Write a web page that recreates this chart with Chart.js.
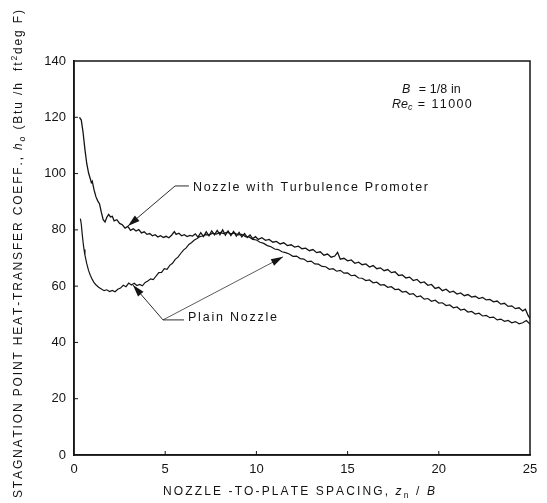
<!DOCTYPE html>
<html><head><meta charset="utf-8">
<script src="https://cdn.jsdelivr.net/npm/chart.js@4"></script>
<style>html,body{margin:0;padding:0;background:#fff}#wrap{width:547px;height:503px}</style>
</head><body><div id="wrap"><canvas id="c" width="547" height="503"></canvas></div>
<script>
// ---- data ----
const seriesNames = ["Nozzle with Turbulence Promoter", "Plain Nozzle"];
const turbX = [0.30,0.40,0.50,0.60,0.70,0.80,0.90,0.95,1.00,1.10,1.20,1.30,1.40,1.50,1.60,1.70,1.80,1.90,2.00,2.10,2.20,2.35,2.50,2.65,2.80,2.95,3.10,3.25,3.40,3.55,3.70,3.85,4.00,4.15,4.30,4.45,4.60,4.75,4.90,5.05,5.20,5.35,5.50,5.60,5.75,5.90,6.05,6.20,6.35,6.50,6.65,6.80,6.95,7.10,7.25,7.40,7.55,7.70,7.85,8.00,8.15,8.30,8.45,8.60,8.75,8.90,9.05,9.20,9.35,9.50,9.65,9.80,9.95,10.10,10.30,10.50,10.70,10.90,11.10,11.30,11.50,11.70,11.90,12.10,12.30,12.50,12.70,12.90,13.10,13.30,13.50,13.70,13.90,14.10,14.30,14.45,14.60,14.80,15.00,15.20,15.40,15.60,15.80,16.00,16.20,16.40,16.60,16.80,17.00,17.20,17.40,17.60,17.80,18.00,18.20,18.40,18.60,18.80,19.00,19.20,19.40,19.60,19.80,20.00,20.20,20.40,20.60,20.80,21.00,21.20,21.40,21.60,21.80,22.00,22.20,22.40,22.60,22.80,23.00,23.20,23.40,23.60,23.80,24.00,24.20,24.40,24.60,24.75,24.90,25.00];
const turbY = [120.0,119.0,114.5,108.5,103.5,100.2,98.0,96.8,97.3,94.2,91.8,90.3,89.2,86.2,83.6,82.8,84.5,85.5,84.6,84.8,83.2,83.6,82.3,81.8,80.6,81.2,79.8,80.4,79.6,80.1,78.9,79.3,78.4,78.7,77.9,78.3,77.5,77.9,77.3,77.7,77.2,78.1,79.4,78.4,78.8,77.9,78.3,77.6,78.0,77.8,78.6,77.4,79.0,77.6,79.3,77.9,79.6,78.2,79.8,78.3,80.0,78.1,79.6,78.0,79.4,77.8,79.1,77.5,78.7,77.3,78.2,76.9,77.6,76.6,77.2,76.3,76.6,75.6,75.9,75.0,75.4,74.4,74.7,73.9,74.2,73.3,73.5,72.6,73.0,71.9,72.2,71.0,71.4,70.3,70.7,72.0,69.6,69.9,69.0,69.3,68.1,68.5,67.6,67.9,66.8,67.3,66.2,66.5,65.5,65.9,64.8,65.1,63.8,64.0,62.9,63.2,62.0,62.4,61.2,61.5,60.3,60.6,59.2,59.6,58.4,58.9,57.8,58.2,57.2,57.6,56.6,57.0,56.1,56.4,55.6,56.0,55.1,55.3,54.4,54.7,53.6,53.9,52.8,53.0,52.0,52.3,51.2,51.8,49.5,48.5];
const plainX = [0.35,0.40,0.45,0.50,0.55,0.60,0.70,0.80,0.90,1.00,1.10,1.20,1.35,1.50,1.65,1.80,1.95,2.10,2.25,2.40,2.55,2.70,2.85,3.00,3.15,3.30,3.45,3.60,3.75,3.90,4.05,4.20,4.35,4.50,4.65,4.80,4.95,5.10,5.25,5.40,5.55,5.70,5.85,6.00,6.15,6.30,6.45,6.60,6.75,6.90,7.05,7.20,7.40,7.60,7.80,8.00,8.20,8.40,8.60,8.80,9.00,9.20,9.40,9.60,9.80,10.00,10.20,10.40,10.60,10.80,11.00,11.20,11.40,11.60,11.80,12.00,12.20,12.40,12.60,12.80,13.00,13.20,13.40,13.60,13.80,14.00,14.20,14.40,14.60,14.80,15.00,15.20,15.40,15.60,15.80,16.00,16.20,16.40,16.60,16.80,17.00,17.20,17.40,17.60,17.80,18.00,18.20,18.40,18.60,18.80,19.00,19.20,19.40,19.60,19.80,20.00,20.20,20.40,20.60,20.80,21.00,21.20,21.40,21.60,21.80,22.00,22.20,22.40,22.60,22.80,23.00,23.20,23.40,23.60,23.80,24.00,24.20,24.40,24.60,24.80,25.00];
const plainY = [84.0,82.0,78.5,75.5,73.0,71.0,68.0,65.5,63.8,62.4,61.2,60.5,59.6,59.0,58.4,58.7,58.1,58.5,58.0,58.9,59.3,60.3,59.8,61.1,60.4,61.0,60.2,60.6,60.1,61.3,61.8,62.6,62.3,63.6,64.8,64.9,66.2,66.0,67.4,68.1,69.5,70.3,71.6,72.8,73.6,74.8,75.5,76.4,76.9,77.6,77.8,78.3,78.1,78.8,78.5,79.1,78.7,79.2,78.6,78.9,78.2,78.4,77.6,77.5,76.6,76.4,75.6,75.2,74.4,74.0,73.2,73.0,72.2,71.9,71.4,70.6,70.7,69.8,69.6,68.7,68.9,67.9,67.8,67.0,66.9,66.0,66.2,65.3,65.6,64.6,64.7,63.7,63.9,62.9,62.8,62.0,62.2,61.2,61.4,60.4,60.5,59.6,59.8,58.8,58.9,57.9,58.1,57.1,57.3,56.2,56.5,55.4,55.6,54.6,55.0,54.0,54.1,53.1,53.3,52.3,52.6,51.5,51.8,50.8,51.0,50.1,50.4,49.4,49.6,48.8,49.0,48.0,48.3,47.5,47.8,47.0,47.4,46.6,47.0,47.8,46.5];
const xTicks = [0, 5, 10, 15, 20, 25];
const yTicks = [0, 20, 40, 60, 80, 100, 120, 140];

// ---- helpers ----
const FAM = '"Liberation Sans", Arial, sans-serif';
const INK = '#141414';
function fontOf(s, size){ const sz = (s.sub||s.sup) ? size*0.72 : size; return (s.i?'italic ':'') + sz + 'px ' + FAM; }
function richDraw(ctx, segs, cx, cy, target, size){
  let natural = 0, n = 0;
  segs.forEach(s=>{ ctx.font = fontOf(s,size); for (const ch of s.t){ natural += ctx.measureText(ch).width; n++; } });
  const sp = target ? (target - natural)/Math.max(1,n-1) : 0;
  const total = target || natural;
  let x = cx - total/2;
  ctx.textBaseline = 'middle'; ctx.textAlign = 'left';
  segs.forEach(s=>{
    ctx.font = fontOf(s,size);
    const dy = s.sub ? size*0.3 : (s.sup ? -size*0.35 : 0);
    for (const ch of s.t){ ctx.fillText(ch, x, cy+dy); x += ctx.measureText(ch).width + sp; }
  });
}
function richLeft(ctx, segs, lx, cy, target, size){
  let natural = 0;
  segs.forEach(s=>{ ctx.font = fontOf(s,size); for (const ch of s.t) natural += ctx.measureText(ch).width; });
  const w = target || natural;
  richDraw(ctx, segs, lx + w/2, cy, target, size);
}
function arrow(ctx, x1, y1, x2, y2){
  ctx.beginPath(); ctx.moveTo(x1,y1); ctx.lineTo(x2,y2); ctx.stroke();
  const a = Math.atan2(y2-y1, x2-x1), L = 12, W = 3.6;
  const bx = x2 - L*Math.cos(a), by = y2 - L*Math.sin(a);
  ctx.beginPath(); ctx.moveTo(x2,y2);
  ctx.lineTo(bx + W*Math.sin(a), by - W*Math.cos(a));
  ctx.lineTo(bx - W*Math.sin(a), by + W*Math.cos(a));
  ctx.closePath(); ctx.fill();
}

const decor = {
  id: 'decor',
  afterDraw(chart){
    const ctx = chart.ctx, ca = chart.chartArea, xs = chart.scales.x, ys = chart.scales.y;
    const X = v => xs.getPixelForValue(v), Y = v => ys.getPixelForValue(v);
    ctx.save();
    ctx.strokeStyle = INK; ctx.fillStyle = INK;
    // frame
    ctx.lineWidth = 1.5;
    ctx.strokeRect(ca.left, ca.top, ca.right-ca.left, ca.bottom-ca.top);
    // inward ticks
    ctx.lineWidth = 1;
    xTicks.slice(1,-1).forEach(v=>{ ctx.beginPath(); ctx.moveTo(X(v), ca.bottom); ctx.lineTo(X(v), ca.bottom-4); ctx.stroke(); });
    yTicks.slice(1,-1).forEach(v=>{ ctx.beginPath(); ctx.moveTo(ca.left, Y(v)); ctx.lineTo(ca.left+4, Y(v)); ctx.stroke(); });
    // annotation: turbulence promoter
    ctx.lineWidth = 0.9;
    ctx.beginPath(); ctx.moveTo(X(5.54), Y(95.6)); ctx.lineTo(X(6.3), Y(95.6)); ctx.stroke();
    arrow(ctx, X(5.54), Y(95.6), X(2.96), Y(81.4));
    richLeft(ctx, [{t: seriesNames[0]}], X(6.52), Y(95.2), 235, 12.5);
    // annotation: plain nozzle
    ctx.beginPath(); ctx.moveTo(X(4.88), Y(48)); ctx.lineTo(X(6.03), Y(48)); ctx.stroke();
    arrow(ctx, X(4.88), Y(48), X(3.23), Y(60.4));
    ctx.lineWidth = 0.7;
    arrow(ctx, X(4.88), Y(48), X(11.46), Y(70.4));
    richLeft(ctx, [{t: seriesNames[1]}], X(6.25), Y(48.7), 89, 12.5);
    // parameters box
    richLeft(ctx, [{t:'B',i:1}], X(17.98), Y(130.0), 0, 12.5);
    richLeft(ctx, [{t:'= 1/8 in'}], X(18.9), Y(130.0), 42, 12.5);
    richLeft(ctx, [{t:'Re',i:1},{t:'c',i:1,sub:1}], X(17.43), Y(124.7), 0, 12.5);
    richLeft(ctx, [{t:'= 11000'}], X(18.85), Y(124.7), 54, 12.5);
    // axis titles
    richDraw(ctx, [{t:'NOZZLE -TO-PLATE SPACING, '},{t:'z',i:1},{t:'n',sub:1},{t:' / '},{t:'B',i:1}], 299, 492, 272, 12);
    ctx.translate(19, 254); ctx.rotate(-Math.PI/2);
    richDraw(ctx, [{t:'STAGNATION POINT HEAT-TRANSFER COEFF., '},{t:'h',i:1},{t:'o',sub:1},{t:' (Btu /h  ft'},{t:'2',sup:1},{t:'deg F)'}], 0, 0, 488, 12);
    ctx.restore();
  }
};

const mk = (xs, ys) => xs.map((x,i)=>({x, y: ys[i]}));
new Chart(document.getElementById('c'), {
  type: 'line',
  data: { datasets: [
    { label: seriesNames[0], data: mk(turbX, turbY), borderColor: INK, borderWidth: 1.3, pointRadius: 0, tension: 0, fill: false },
    { label: seriesNames[1], data: mk(plainX, plainY), borderColor: INK, borderWidth: 1.2, pointRadius: 0, tension: 0, fill: false }
  ]},
  options: {
    responsive: false, animation: false, devicePixelRatio: 1,
    layout: { padding: { top: 61, right: 17, left: 0, bottom: 0 } },
    plugins: { legend: { display: false }, tooltip: { enabled: false } },
    scales: {
      x: { type: 'linear', min: 0, max: 25,
        afterBuildTicks: s => { s.ticks = xTicks.map(v=>({value: v})); },
        afterFit: s => { s.height = 48; },
        ticks: { color: INK, font: { family: FAM, size: 13 }, padding: 7, maxRotation: 0, autoSkip: false },
        grid: { display: true, drawOnChartArea: false, drawTicks: false },
        border: { display: true, color: INK, width: 1.5 } },
      y: { type: 'linear', min: 0, max: 140,
        afterBuildTicks: s => { s.ticks = yTicks.map(v=>({value: v})); },
        afterFit: s => { s.width = 74; },
        ticks: { color: INK, font: { family: FAM, size: 13 }, padding: 8, autoSkip: false },
        grid: { display: true, drawOnChartArea: false, drawTicks: false },
        border: { display: true, color: INK, width: 1.5 } }
    }
  },
  plugins: [decor]
});
</script>
</body></html>
